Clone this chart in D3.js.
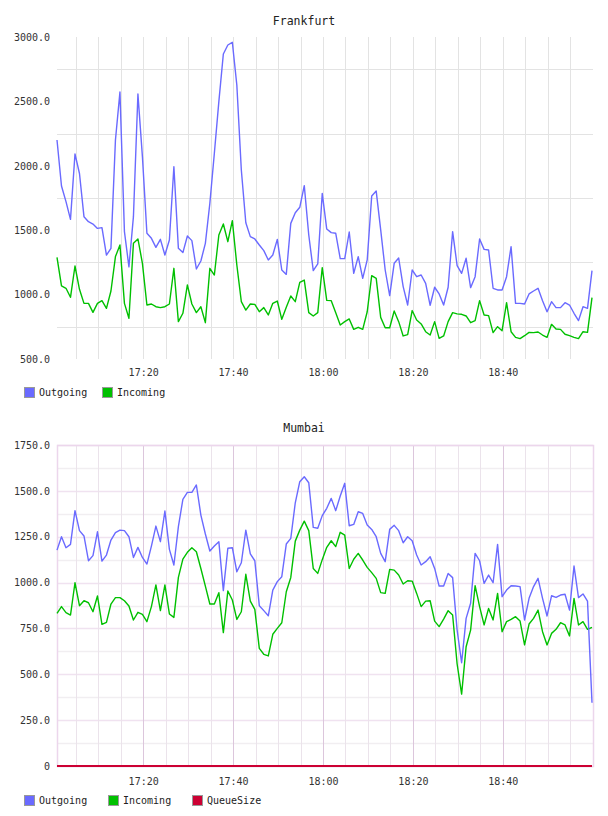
<!DOCTYPE html>
<html>
<head>
<meta charset="utf-8">
<script src="https://cdn.jsdelivr.net/npm/d3@7"></script>
<style>
  body { margin: 0; background: #fff; }
  text { font-family: "DejaVu Sans Mono", monospace; }
</style>
</head>
<body>
<div id="chart"></div>
<script>
// one sample per minute, first sample at this time
const startTime = "17:00:50";
const timeTickLabels = ["17:20", "17:40", "18:00", "18:20", "18:40"];

const frankfurtTicks = [500, 1000, 1500, 2000, 2500, 3000];
const frankfurtGrid = [750, 1250, 1750, 2250, 2750];
const mumbaiTicks = [0, 250, 500, 750, 1000, 1250, 1500, 1750];
const mumbaiMinorGrid = [125, 375, 625, 875, 1125, 1375, 1625];

const frankfurtOutgoing = [
  2200, 1843, 1722, 1584, 2092, 1940, 1605, 1566, 1548, 1514,
  1520, 1307, 1359, 2200, 2573, 1489, 1215, 1605, 2557, 2071,
  1476, 1437, 1367, 1429, 1307, 1424, 1993, 1359, 1326, 1455,
  1419, 1199, 1261, 1398, 1709, 2097, 2498, 2868, 2938, 2959,
  2627, 1967, 1558, 1450, 1432, 1385, 1341, 1269, 1307, 1429,
  1191, 1157, 1553, 1636, 1678, 1846, 1463, 1186, 1238, 1786,
  1509, 1481, 1476, 1279, 1279, 1486, 1165, 1295, 1126, 1269,
  1766, 1804, 1502, 1191, 992, 1243, 1284, 1062, 919, 1191,
  1139, 1152, 1087, 917, 1057, 1005, 919, 1057, 1489, 1225,
  1165, 1282, 1054, 1139, 1432, 1351, 1346, 1049, 1036, 1036,
  1139, 1372, 932, 932, 927, 1005, 1028, 1049, 953, 867,
  945, 899, 899, 937, 919, 855, 798, 906, 893, 1186
];
const frankfurtIncoming = [
  1289, 1067, 1049, 979, 1222, 1041, 932, 932, 862, 932,
  953, 893, 1028, 1295, 1385, 932, 816, 1398, 1432, 1243,
  919, 927, 906, 899, 906, 927, 1204, 790, 855, 1075,
  927, 860, 906, 782, 1204, 1152, 1463, 1548, 1411, 1574,
  1230, 945, 880, 927, 924, 867, 899, 842, 932, 950,
  808, 901, 989, 945, 1095, 1113, 860, 834, 860, 1209,
  955, 953, 860, 764, 790, 811, 730, 746, 730, 867,
  1147, 1126, 823, 743, 743, 873, 790, 679, 689, 876,
  803, 772, 712, 686, 790, 660, 679, 790, 860, 850,
  847, 834, 782, 798, 953, 842, 837, 705, 751, 720,
  937, 712, 668, 658, 681, 707, 705, 710, 686, 668,
  769, 733, 730, 692, 681, 668, 658, 712, 707, 976
];
const mumbaiOutgoing = [
  1177, 1250, 1190, 1208, 1392, 1283, 1254, 1119, 1147, 1277,
  1117, 1150, 1232, 1272, 1286, 1283, 1250, 1137, 1192, 1137,
  1101, 1199, 1308, 1223, 1390, 1181, 1096, 1305, 1454, 1492,
  1492, 1532, 1368, 1265, 1172, 1199, 1223, 956, 1187, 1190,
  1059, 1108, 1286, 1156, 1119, 874, 847, 819, 959, 1005,
  1032, 1210, 1241, 1435, 1550, 1577, 1544, 1301, 1296, 1365,
  1405, 1459, 1392, 1472, 1541, 1310, 1317, 1386, 1377, 1314,
  1290, 1250, 1159, 1114, 1290, 1312, 1283, 1217, 1250, 1228,
  1150, 1096, 1114, 1141, 1077, 981, 981, 1050, 1027, 741,
  563, 805, 887, 1159, 1119, 996, 1041, 999, 1208, 923,
  959, 983, 981, 978, 796, 914, 978, 1023, 914, 818,
  928, 919, 932, 936, 850, 1090, 918, 938, 899, 345
];
const mumbaiIncoming = [
  832, 869, 836, 823, 999, 874, 901, 890, 841, 927,
  772, 783, 883, 918, 918, 901, 872, 796, 838, 827,
  787, 869, 987, 847, 987, 829, 810, 1028, 1128, 1165,
  1190, 1168, 1077, 981, 883, 883, 945, 727, 954, 905,
  799, 841, 1045, 899, 854, 641, 609, 600, 718, 750,
  781, 950, 1028, 1226, 1286, 1335, 1283, 1077, 1050, 1125,
  1192, 1228, 1196, 1274, 1259, 1077, 1127, 1159, 1123, 1083,
  1054, 1023, 945, 941, 1072, 1068, 1041, 992, 1010, 1008,
  941, 869, 899, 901, 790, 760, 801, 847, 823, 556,
  392, 650, 741, 983, 869, 769, 859, 796, 941, 732,
  787, 799, 814, 790, 660, 774, 805, 850, 732, 660,
  723, 745, 781, 769, 709, 914, 769, 787, 745, 756
];
const mumbaiQueueSize = [
  0, 0, 0, 0, 0, 0, 0, 0, 0, 0, 0, 0, 0, 0, 0, 0, 0, 0, 0, 0,
  0, 0, 0, 0, 0, 0, 0, 0, 0, 0, 0, 0, 0, 0, 0, 0, 0, 0, 0, 0,
  0, 0, 0, 0, 0, 0, 0, 0, 0, 0, 0, 0, 0, 0, 0, 0, 0, 0, 0, 0,
  0, 0, 0, 0, 0, 0, 0, 0, 0, 0, 0, 0, 0, 0, 0, 0, 0, 0, 0, 0,
  0, 0, 0, 0, 0, 0, 0, 0, 0, 0, 0, 0, 0, 0, 0, 0, 0, 0, 0, 0,
  0, 0, 0, 0, 0, 0, 0, 0, 0, 0, 0, 0, 0, 0, 0, 0, 0, 0, 0, 0
];

const colors = { Outgoing: "#6a6aff", Incoming: "#00c000", QueueSize: "#cc0033" };

const parseTime = d3.timeParse("%H:%M:%S");
const parseTick = d3.timeParse("%H:%M");
const t0 = parseTime(startTime);
const times = frankfurtOutgoing.map((d, i) => d3.timeMinute.offset(t0, i));
const tickTimes = timeTickLabels.map(parseTick);

const svg = d3.select("#chart").append("svg")
    .attr("width", 608)
    .attr("height", 816);

function drawChart(cfg) {
  const x = d3.scaleTime()
      .domain([times[0], times[times.length - 1]])
      .range([cfg.left, cfg.right - 1]);
  const y = d3.scaleLinear()
      .domain(cfg.yDomain)
      .range([cfg.bottom, cfg.top]);

  const g = svg.append("g");
  const fiveMin = x.ticks(d3.timeMinute.every(5));

  if (cfg.style === "plain") {
    // light grey grid, no frame
    g.selectAll(".vgrid").data(fiveMin).enter().append("line")
        .attr("x1", d => Math.round(x(d)) + 0.5).attr("x2", d => Math.round(x(d)) + 0.5)
        .attr("y1", cfg.top).attr("y2", cfg.bottom)
        .attr("stroke", "#e3e3e3");
    g.selectAll(".hgrid").data(cfg.grid).enter().append("line")
        .attr("x1", cfg.left).attr("x2", cfg.right)
        .attr("y1", d => Math.round(y(d)) + 0.5).attr("y2", d => Math.round(y(d)) + 0.5)
        .attr("stroke", "#e3e3e3");
  } else {
    // pinkish grid with darker major lines and a frame
    g.selectAll(".hminor").data(cfg.grid).enter().append("line")
        .attr("x1", cfg.left).attr("x2", cfg.right)
        .attr("y1", d => Math.round(y(d)) + 0.5).attr("y2", d => Math.round(y(d)) + 0.5)
        .attr("stroke", "#f1eef1").attr("stroke-width", 1.5);
    g.selectAll(".hmajor").data(cfg.ticks).enter().append("line")
        .attr("x1", cfg.left).attr("x2", cfg.right)
        .attr("y1", d => Math.round(y(d)) + 0.5).attr("y2", d => Math.round(y(d)) + 0.5)
        .attr("stroke", "#f0e2f0").attr("stroke-width", 1.5);
    g.selectAll(".vgrid").data(fiveMin).enter().append("line")
        .attr("x1", d => Math.round(x(d)) + 0.5).attr("x2", d => Math.round(x(d)) + 0.5)
        .attr("y1", cfg.top).attr("y2", cfg.bottom)
        .attr("stroke", d => d.getMinutes() % 20 === 0 ? "#dcc6dc" : "#ebe3eb");
    g.append("rect")
        .attr("x", cfg.left + 0.5).attr("y", cfg.top + 0.5)
        .attr("width", cfg.right - cfg.left).attr("height", cfg.bottom - cfg.top)
        .attr("fill", "none").attr("stroke", "#ecd6ec").attr("stroke-width", 1.5);
  }

  // title
  svg.append("text")
      .attr("x", 304).attr("y", cfg.titleY)
      .attr("text-anchor", "middle")
      .style("font-size", "11.5px").attr("fill", "#222")
      .text(cfg.title);

  // axes
  const yAxis = svg.append("g")
      .attr("transform", "translate(" + cfg.left + ",0)")
      .call(d3.axisLeft(y).tickValues(cfg.ticks).tickSize(0).tickPadding(7)
        .tickFormat(d => d === 0 ? "0" : d3.format(".1f")(d)));
  yAxis.select(".domain").remove();
  yAxis.selectAll("text").style("font-size", "10px").attr("fill", "#333")
      .style("font-family", "'DejaVu Sans Mono', monospace");

  const xAxis = svg.append("g")
      .attr("transform", "translate(0," + cfg.bottom + ")")
      .call(d3.axisBottom(x).tickValues(tickTimes).tickSize(0).tickPadding(cfg.xPad)
        .tickFormat(d3.timeFormat("%H:%M")));
  xAxis.select(".domain").remove();
  xAxis.selectAll("text").style("font-size", "10px").attr("fill", "#333")
      .style("font-family", "'DejaVu Sans Mono', monospace");

  // series lines (drawn last-first so Outgoing sits on top)
  const line = d3.line()
      .x((d, i) => x(times[i]))
      .y(d => y(d));
  cfg.series.slice().reverse().forEach(s => {
    g.append("path")
        .datum(s.values)
        .attr("d", line)
        .attr("fill", "none")
        .attr("stroke", colors[s.name])
        .attr("stroke-width", s.name === "QueueSize" ? 2 : 1.4)
        .attr("stroke-linejoin", "round");
  });

  // legend
  cfg.series.forEach((s, i) => {
    const lx = cfg.legendX[i];
    svg.append("rect")
        .attr("x", lx + 0.5).attr("y", cfg.legendY + 0.5)
        .attr("width", 10).attr("height", 10)
        .attr("fill", colors[s.name]).attr("stroke", "#999");
    svg.append("text")
        .attr("x", lx + 15).attr("y", cfg.legendY + 9)
        .style("font-size", "10px").attr("fill", "#222")
        .text(s.name);
  });
}

drawChart({
  title: "Frankfurt", titleY: 25,
  left: 57, right: 593, top: 37, bottom: 359,
  yDomain: [500, 3000], ticks: frankfurtTicks, grid: frankfurtGrid,
  style: "plain", xPad: 10,
  series: [
    { name: "Outgoing", values: frankfurtOutgoing },
    { name: "Incoming", values: frankfurtIncoming }
  ],
  legendX: [24, 102], legendY: 387
});

drawChart({
  title: "Mumbai", titleY: 432,
  left: 57, right: 593, top: 445, bottom: 766,
  yDomain: [0, 1750], ticks: mumbaiTicks, grid: mumbaiMinorGrid,
  style: "framed", xPad: 12,
  series: [
    { name: "Outgoing", values: mumbaiOutgoing },
    { name: "Incoming", values: mumbaiIncoming },
    { name: "QueueSize", values: mumbaiQueueSize }
  ],
  legendX: [24, 108, 192], legendY: 795
});
</script>
</body>
</html>
